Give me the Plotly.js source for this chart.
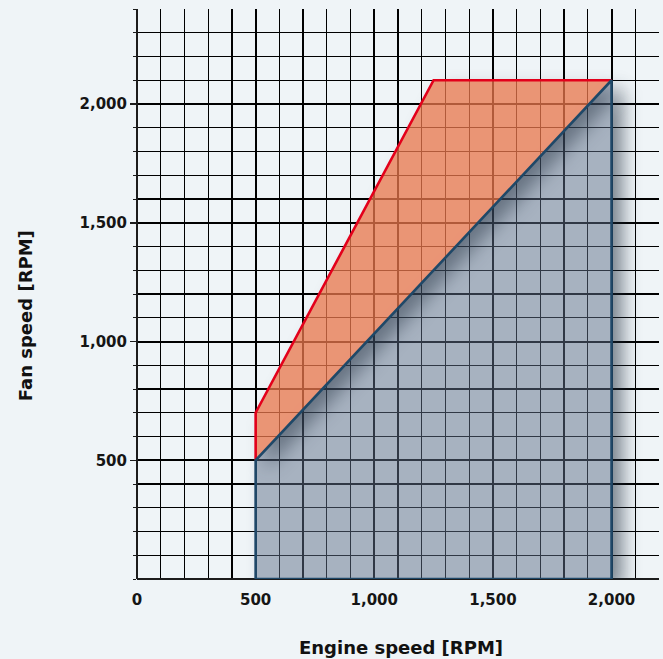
<!DOCTYPE html>
<html>
<head>
<meta charset="utf-8">
<script src="https://cdn.plot.ly/plotly-3.0.1.min.js"></script>
<style>
  html, body { margin: 0; padding: 0; background: #eff4f7; }
  #chart { width: 663px; height: 659px; }
</style>
</head>
<body>
<div id="chart"></div>
<script>
// Operating range (lower, blue) : engine speed vs fan speed
const blueEngine = [500, 500, 2000, 2000, 500];
const blueFan    = [0, 500, 2100, 0, 0];
// Extended range (upper, red)
const redEngine  = [500, 500, 1250, 2000];
const redFan     = [500, 700, 2100, 2100];

const xTickVals  = [0, 500, 1000, 1500, 2000];
const xTickText  = ['0', '500', '1,000', '1,500', '2,000'];
const yTickVals  = [500, 1000, 1500, 2000];
const yTickText  = ['500', '1,000', '1,500', '2,000'];

const xTitle = 'Engine speed [RPM]';
const yTitle = 'Fan speed [RPM]';

const FONT = 'DejaVu Sans, Liberation Sans, sans-serif';

const traces = [
  { uid: 'bluefill',
    x: blueEngine, y: blueFan, type: 'scatter', mode: 'lines',
    fill: 'toself', fillcolor: 'rgba(96,111,138,0.5)',
    line: { width: 0.1, color: 'rgba(0,0,0,0)' }, hoverinfo: 'skip', showlegend: false },
  { uid: 'redfill',
    x: redEngine, y: redFan, type: 'scatter', mode: 'lines',
    fill: 'toself', fillcolor: 'rgba(233,118,76,0.76)',
    line: { width: 2.6, color: '#e3001b' }, hoverinfo: 'skip', showlegend: false },
  { uid: 'blueline',
    x: blueEngine, y: blueFan, type: 'scatter', mode: 'lines',
    line: { width: 2.6, color: '#1f4868' }, hoverinfo: 'skip', showlegend: false }
];

const axisCommon = {
  showgrid: true, gridcolor: '#000', gridwidth: 2,
  zeroline: true, zerolinecolor: '#1c1c1c', zerolinewidth: 2.2,
  showline: false,
  tickfont: { family: FONT, size: 15, color: '#151515', weight: 'bold' },
  fixedrange: true
};

const layout = {
  width: 663, height: 659,
  margin: { l: 137, r: 4, t: 9, b: 80 },
  paper_bgcolor: '#eff4f7', plot_bgcolor: '#eff4f7',
  showlegend: false,
  xaxis: Object.assign({}, axisCommon, {
    range: [0, 2200], tickmode: 'array', tickvals: xTickVals, ticktext: xTickText,
    ticks: '', ticklabelstandoff: 10,
    minor: { dtick: 100, tick0: 0, showgrid: true, gridcolor: '#000', gridwidth: 1.2, ticks: '' }
  }),
  yaxis: Object.assign({}, axisCommon, {
    range: [0, 2400], tickmode: 'array', tickvals: yTickVals, ticktext: yTickText,
    ticks: 'outside', ticklen: 6, tickwidth: 1.5, tickcolor: '#1c1c1c', ticklabelstandoff: 0,
    minor: { dtick: 100, tick0: 0, showgrid: true, gridcolor: '#000', gridwidth: 1.2,
             ticks: 'outside', ticklen: 3, tickwidth: 1, tickcolor: '#1c1c1c' }
  }),
  annotations: [
    { text: xTitle, xref: 'paper', yref: 'paper', x: 0.506, y: 0, yshift: -68,
      xanchor: 'center', yanchor: 'middle', showarrow: false,
      font: { family: FONT, size: 18, color: '#111', weight: 'bold' } },
    { text: yTitle, xref: 'paper', yref: 'paper', x: 0, xshift: -112, y: 0.461,
      xanchor: 'center', yanchor: 'middle', textangle: -90, showarrow: false,
      font: { family: FONT, size: 18, color: '#111', weight: 'bold' } }
  ]
};

Plotly.newPlot('chart', traces, layout, { displayModeBar: false, staticPlot: true }).then(gd => {
  const NS = 'http://www.w3.org/2000/svg';
  const svg = gd.querySelector('svg.main-svg');
  let defs = svg.querySelector('defs');
  if (!defs) { defs = document.createElementNS(NS, 'defs'); svg.insertBefore(defs, svg.firstChild); }
  defs.insertAdjacentHTML('beforeend',
    '<filter id="blurOff" filterUnits="userSpaceOnUse" x="-300" y="-300" width="1400" height="1400" color-interpolation-filters="sRGB">' +
      '<feGaussianBlur in="SourceGraphic" stdDeviation="9"/>' +
      '<feOffset dx="11" dy="9"/>' +
    '</filter>');
  const shadowOpacity = { bluefill: 0.55, redfill: 0.45 };
  const layer = gd.querySelector('.scatterlayer');
  ['bluefill', 'redfill'].forEach(id => {
    const g = gd.querySelector('.trace' + id);
    const p = g && (g.querySelector('path.js-fill') || g.querySelector('.fills path'));
    if (!p) return;
    const d = p.getAttribute('d');
    const m = document.createElementNS(NS, 'mask');
    m.setAttribute('id', 'mk_' + id);
    m.setAttribute('maskUnits', 'userSpaceOnUse');
    m.setAttribute('x', '-1000'); m.setAttribute('y', '-1000');
    m.setAttribute('width', '3000'); m.setAttribute('height', '3000');
    m.innerHTML = '<rect x="-1000" y="-1000" width="3000" height="3000" fill="#fff"/>' +
                  '<path d="' + d + '" fill="#000"/>';
    defs.appendChild(m);
    const wrap = document.createElementNS(NS, 'g');
    wrap.setAttribute('mask', 'url(#mk_' + id + ')');
    const sh = document.createElementNS(NS, 'path');
    sh.setAttribute('d', d);
    sh.setAttribute('fill', '#1a2838');
    sh.setAttribute('fill-opacity', String(shadowOpacity[id]));
    sh.setAttribute('filter', 'url(#blurOff)');
    wrap.appendChild(sh);
    if (id === 'bluefill' && layer) {
      layer.insertBefore(wrap, layer.firstChild);   // beneath all traces, above the grid
    } else {
      p.parentNode.insertBefore(wrap, p);
    }
  });
});
</script>
</body>
</html>
